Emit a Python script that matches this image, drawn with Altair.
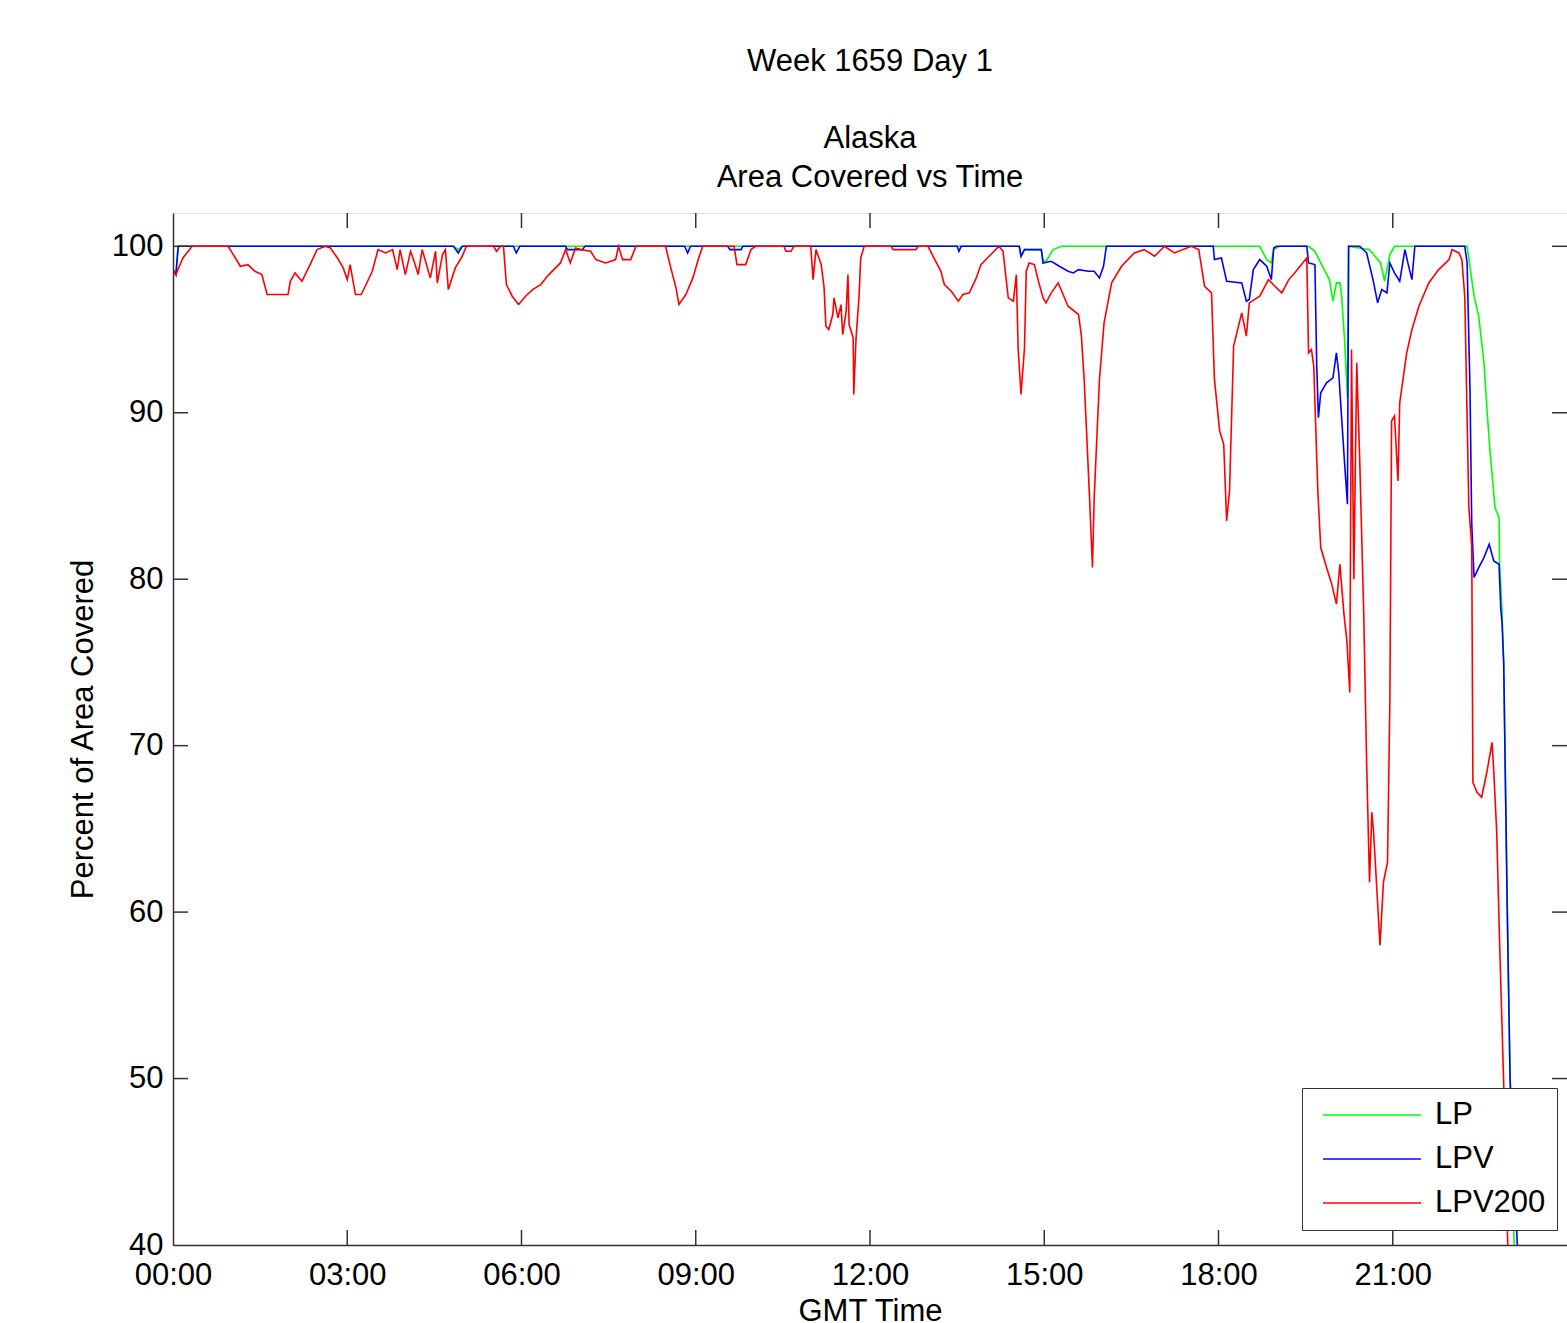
import altair as alt
import pandas as pd

# ---------------- data (hours GMT, percent of area covered) ----------------
series_names = ["LP", "LPV", "LPV200"]
series_colors = ["#00ff00", "#0000ff", "#ff0000"]

lp_t = [0.00, 0.05, 0.09, 4.83, 4.91, 4.98, 14.57, 14.60, 14.66, 14.95, 14.98, 15.05,
        15.15, 15.30, 18.71, 18.83, 18.91, 18.95, 19.05, 19.55, 19.66, 19.79, 19.91,
        19.97, 20.03, 20.09, 20.12, 20.17, 20.22, 20.24, 20.60, 20.79, 20.86, 20.95,
        21.03, 22.28, 22.40, 22.48, 22.57, 22.62, 22.67, 22.76, 22.83, 22.84, 22.88,
        22.91, 22.97, 23.02, 23.09, 23.12]
lp_v = [98.6, 98.3, 100, 100, 99.8, 100, 100, 99.4, 99.8, 99.8, 99.0, 99.2,
        99.8, 100, 100, 99.2, 99.0, 99.8, 100, 100, 99.7, 98.8, 98.0,
        96.7, 97.8, 97.8, 97.0, 94.4, 90.9, 100, 99.8, 99.0, 97.9, 99.5,
        100, 100, 97.0, 95.8, 93.0, 90.3, 87.9, 84.3, 83.7, 80.9, 78.2,
        75.0, 60.5, 50.0, 40.0, 38.0]

lpv_t = [0.00, 0.05, 0.09, 4.83, 4.91, 4.98, 5.86, 5.91, 5.97, 6.76, 6.79, 7.05,
         7.09, 8.81, 8.86, 8.91, 9.55, 9.59, 9.78, 9.81, 13.50, 13.53, 13.57,
         14.57, 14.60, 14.66, 14.95, 14.98, 15.12, 15.26, 15.41, 15.50, 15.59,
         15.76, 15.86, 15.95, 16.02, 16.07, 17.91, 17.93, 18.05, 18.14, 18.40,
         18.48, 18.53, 18.60, 18.71, 18.83, 18.91, 18.95, 19.00, 19.52, 19.55,
         19.66, 19.69, 19.72, 19.76, 19.86, 19.97, 20.03, 20.07, 20.12, 20.17,
         20.22, 20.24, 20.43, 20.55, 20.66, 20.74, 20.81, 20.90, 20.95, 21.03,
         21.12, 21.21, 21.26, 21.33, 21.38, 22.24, 22.28, 22.33, 22.36, 22.40,
         22.48, 22.57, 22.66, 22.74, 22.83, 22.86, 22.88, 22.91, 22.97, 23.02,
         23.17]
lpv_v = [98.6, 98.3, 100, 100, 99.6, 100, 100, 99.6, 100, 100, 99.8, 99.8,
         100, 100, 99.6, 100, 100, 99.8, 99.8, 100, 100, 99.7, 100,
         100, 99.4, 99.8, 99.8, 99.0, 99.1, 98.8, 98.5, 98.4, 98.6,
         98.5, 98.5, 98.1, 98.8, 100, 100, 99.2, 99.3, 97.9, 97.8,
         96.7, 96.8, 98.6, 99.2, 98.8, 98.0, 99.9, 100, 100, 99.0,
         98.9, 93.0, 89.7, 91.2, 91.8, 92.1, 93.6, 92.4, 89.7, 87.0,
         84.5, 100, 100, 99.6, 98.0, 96.6, 97.4, 97.2, 99.0, 98.4,
         97.9, 99.8, 99.0, 98.0, 100, 100, 99.0, 91.4, 83.3, 80.1,
         80.7, 81.3, 82.1, 81.1, 80.9, 78.2, 77.5, 75.0, 60.5, 50.0,
         38.0]

lpv200_t = [0.00, 0.05, 0.17, 0.33, 0.95, 1.16, 1.29, 1.41, 1.53, 1.62, 1.98, 2.02,
            2.10, 2.22, 2.36, 2.48, 2.62, 2.71, 2.83, 2.93, 3.00, 3.05, 3.14, 3.24,
            3.31, 3.43, 3.53, 3.66, 3.78, 3.86, 3.91, 4.00, 4.09, 4.16, 4.22, 4.29,
            4.43, 4.52, 4.55, 4.64, 4.69, 4.74, 4.86, 4.98, 5.05, 5.52, 5.57, 5.64,
            5.69, 5.74, 5.84, 5.95, 6.07, 6.19, 6.33, 6.47, 6.67, 6.76, 6.84, 6.93,
            7.02, 7.19, 7.28, 7.45, 7.62, 7.67, 7.74, 7.88, 7.97, 8.48, 8.57, 8.66,
            8.71, 8.83, 8.95, 9.05, 9.12, 9.66, 9.71, 9.86, 9.95, 10.03, 10.52, 10.55,
            10.64, 10.69, 10.98, 11.02, 11.07, 11.16, 11.21, 11.24, 11.29, 11.36,
            11.38, 11.45, 11.50, 11.53, 11.59, 11.62, 11.64, 11.71, 11.72, 11.76,
            11.81, 11.84, 11.90, 12.36, 12.40, 12.79, 12.83, 13.00, 13.10, 13.22,
            13.28, 13.40, 13.52, 13.60, 13.71, 13.83, 13.91, 14.05, 14.22, 14.29,
            14.38, 14.47, 14.48, 14.52, 14.55, 14.60, 14.66, 14.69, 14.74, 14.83,
            14.90, 14.98, 15.03, 15.12, 15.24, 15.41, 15.59, 15.64, 15.69, 15.78,
            15.83, 15.86, 15.95, 16.03, 16.16, 16.33, 16.55, 16.72, 16.90, 17.07,
            17.24, 17.53, 17.66, 17.76, 17.88, 17.93, 18.02, 18.09, 18.14, 18.19,
            18.26, 18.40, 18.48, 18.53, 18.71, 18.86, 18.97, 19.09, 19.21, 19.31,
            19.52, 19.55, 19.60, 19.64, 19.71, 19.76, 19.86, 19.95, 20.03, 20.09,
            20.16, 20.21, 20.26, 20.29, 20.33, 20.38, 20.43, 20.50, 20.55, 20.60,
            20.64, 20.67, 20.74, 20.78, 20.84, 20.91, 20.95, 20.98, 21.03, 21.09,
            21.12, 21.24, 21.33, 21.45, 21.62, 21.79, 21.97, 22.02, 22.14, 22.19,
            22.24, 22.31, 22.36, 22.38, 22.45, 22.53, 22.62, 22.71, 22.74, 22.79,
            22.84, 22.91, 22.98, 23.00]
lpv200_v = [98.5, 98.3, 99.3, 100, 100, 98.8, 98.9, 98.5, 98.3, 97.1, 97.1, 97.9,
            98.4, 97.9, 98.9, 99.8, 100, 99.9, 99.3, 98.7, 98.0, 98.9, 97.1, 97.1,
            97.6, 98.5, 99.8, 99.6, 99.8, 98.6, 99.8, 98.3, 99.7, 99.0, 98.3, 99.8,
            98.1, 99.7, 97.8, 99.5, 99.8, 97.4, 98.7, 99.4, 100, 100, 99.7, 100,
            100, 97.7, 97.0, 96.5, 97.0, 97.4, 97.7, 98.3, 99.0, 99.8, 99.0, 99.9,
            99.8, 99.7, 99.2, 99.0, 99.2, 100, 99.2, 99.2, 100, 100, 98.7, 97.5,
            96.5, 97.1, 98.1, 99.3, 100, 100, 98.9, 98.9, 99.8, 100, 100, 99.7,
            99.7, 100, 100, 98.0, 99.8, 98.9, 97.5, 95.2, 95.0, 95.9,
            96.9, 95.7, 96.5, 94.7, 96.1, 98.3, 95.3, 94.5, 91.1, 94.5,
            96.9, 99.3, 100, 100, 99.8, 99.8, 100, 100, 99.3, 98.5,
            97.7, 97.3, 96.7, 97.1, 97.2, 98.1, 98.9, 99.4, 100, 99.7,
            96.9, 96.7, 97.1, 98.3, 93.9, 91.1, 93.9, 98.5, 99.0, 98.9,
            97.9, 96.9, 96.6, 97.2, 97.8, 96.4, 95.9, 94.6, 91.8, 84.9,
            80.7, 84.9, 92.0, 95.4, 97.8, 98.8, 99.6, 99.8, 99.4, 100,
            99.6, 100, 99.8, 97.6, 97.2, 92.0, 88.9, 88.1, 83.5, 85.3,
            94.0, 96.0, 94.6, 96.6, 97.0, 98.0, 97.6, 97.2, 98.0, 98.4,
            99.3, 93.6, 93.8, 92.8, 85.3, 81.9, 80.7, 79.7, 78.5, 80.9,
            77.9, 76.3, 73.2, 93.8, 80.0, 93.0, 87.3, 78.0, 69.0, 61.8,
            66.0, 64.8, 60.5, 58.0, 61.8, 63.0, 72.6, 89.5, 89.8, 85.9,
            90.6, 93.6, 95.0, 96.4, 97.8, 98.6, 99.2, 99.8, 99.6, 99.2,
            97.0, 84.3, 82.0, 67.8, 67.2, 66.9, 68.4, 70.2, 68.4, 64.8,
            58.1, 49.7, 40.0, 38.0]

x_ticks = [0, 3, 6, 9, 12, 15, 18, 21]
y_ticks = [40, 50, 60, 70, 80, 90, 100]
title_main = "Week 1659 Day 1"
title_sub = ["Alaska", "Area Covered vs Time"]

# ---------------- build table ----------------
rows = []
for name, ts, vs in [("LP", lp_t, lp_v), ("LPV", lpv_t, lpv_v), ("LPV200", lpv200_t, lpv200_v)]:
    for i, (t, v) in enumerate(zip(ts, vs)):
        rows.append({"t": t, "v": v, "series": name, "idx": i})
df = pd.DataFrame(rows)
xt = pd.DataFrame({"t": x_ticks[1:]})
yt = pd.DataFrame({"v": y_ticks[1:]})

FONT = "Liberation Sans"
W, H = 1394, 1032

xscale = alt.Scale(domain=[0, 24], nice=False, zero=False)
yscale = alt.Scale(domain=[40, 102], nice=False, zero=False)

x_axis = alt.Axis(values=x_ticks, labelExpr="(datum.value < 10 ? '0' : '') + datum.value + ':00'",
                  ticks=False, grid=False, domainColor="#333333", domainWidth=1.5,
                  labelFontSize=31, labelColor="black", labelFont=FONT, labelPadding=15,
                  title="GMT Time", titleFontSize=31, titleFontWeight="normal", titleFont=FONT,
                  titleColor="black", titlePadding=6, labelFlush=False)
y_axis = alt.Axis(values=y_ticks, ticks=False, grid=False, domainColor="#333333", domainWidth=1.5,
                  labelFontSize=31, labelColor="black", labelFont=FONT, labelPadding=10,
                  title="Percent of Area Covered", titleFontSize=31, titleFontWeight="normal",
                  titleFont=FONT, titleColor="black", titlePadding=12, labelFlush=False)

color = alt.Color("series:N",
                  scale=alt.Scale(domain=series_names, range=series_colors),
                  legend=alt.Legend(title=None, orient="none", legendX=1129, legendY=875,
                                    symbolType="stroke", symbolSize=9604, symbolStrokeWidth=1.5,
                                    clipHeight=32, labelFontSize=31, labelFont=FONT,
                                    labelColor="black", rowPadding=12, padding=11,
                                    strokeColor="#333333", fillColor="white",
                                    labelOffset=13, symbolOffset=9))

X = alt.X("t:Q", scale=xscale, axis=x_axis)
Y = alt.Y("v:Q", scale=yscale, axis=y_axis)

layers = []
for name in series_names:
    layers.append(alt.Chart(df).transform_filter(alt.datum.series == name)
                  .mark_line(clip=True, strokeWidth=1.6)
                  .encode(x=X, y=Y, color=color, order="idx:Q"))

tick_style = dict(color="#333333", strokeWidth=1.5)
xb = alt.Chart(xt).mark_rule(**tick_style).encode(x=X, y=alt.value(H), y2=alt.value(H - 15))
xtop = alt.Chart(xt).mark_rule(**tick_style).encode(x=X, y=alt.value(0), y2=alt.value(15))
yl = alt.Chart(yt).mark_rule(**tick_style).encode(y=Y, x=alt.value(0), x2=alt.value(15))
yr = alt.Chart(yt).mark_rule(**tick_style).encode(y=Y, x=alt.value(W - 15), x2=alt.value(W))

chart = alt.layer(*layers, xb, xtop, yl, yr).properties(
    width=W, height=H,
    title=alt.TitleParams(text=title_main, subtitle=title_sub,
                          fontSize=31, fontWeight="normal", font=FONT, color="black",
                          subtitleFontSize=31, subtitleFont=FONT, subtitleColor="black",
                          subtitleFontWeight="normal", subtitleLineHeight=39,
                          subtitlePadding=46, lineHeight=39, anchor="middle", offset=18),
    padding={"left": 173, "top": 213, "right": 0, "bottom": 78},
    autosize=alt.AutoSizeParams(type="none"),
).configure_view(stroke="#333333", strokeWidth=1.5).configure(background="white")

chart.save("out.html", embed_options={"renderer": "svg", "actions": False})
